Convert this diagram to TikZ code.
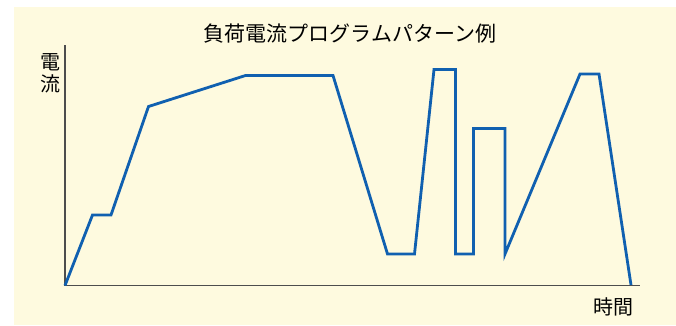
\documentclass[tikz,border=0pt]{standalone}
\usepackage{fontspec}
\newfontfamily\jpfont{Noto Sans CJK JP}
\usepackage{xcolor}
\usetikzlibrary{positioning}
\definecolor{bgcream}{HTML}{FEFADF}
\definecolor{curveblue}{HTML}{1060B0}
\definecolor{axisgray}{HTML}{4D4D4D}

\begin{document}
\begin{tikzpicture}[x=1pt, y=-1pt,
	axisline/.style={axisgray, line width=1.7pt},
	loadcurve/.style={curveblue, line width=2.8pt, line join=miter},
	jplabel/.style={font=\jpfont\fontsize{20}{22}\selectfont, inner sep=0pt, align=center}]
			\useasboundingbox (0,0) rectangle (676,325);
			\fill[bgcream] (14,7) rectangle (676,325);
			
			\coordinate (O) at (65,285.5);
			\coordinate (Ytop) at (65,45);
			\coordinate (Xend) at (640,285.5);
			\draw[axisline] (Ytop) -- (O) -- (Xend);
			
			\coordinate (P1) at (92.5,215);
			\coordinate (P2) at (111,215);
			\coordinate (P3) at (148.5,106.5);
			\coordinate (P4) at (245.5,75.5);
			\coordinate (P5) at (333,75.5);
			\coordinate (P6) at (387.5,254);
			\coordinate (P7) at (414.5,254);
			\coordinate (P8) at (434,69.5);
			\coordinate (P9) at (455.5,69.5);
			\coordinate (P10) at (455.5,254);
			\coordinate (P11) at (473.5,254);
			\coordinate (P12) at (473.5,128.5);
			\coordinate (P13) at (505,128.5);
			\coordinate (P14) at (505,254);
			\coordinate (P15) at (580,74);
			\coordinate (P16) at (599,74);
			\coordinate (P17) at (631,285);
			
			\draw[loadcurve] (O) -- (P1) -- (P2) -- (P3) -- (P4) -- (P5) -- (P6) -- (P7) -- (P8)
				-- (P9) -- (P10) -- (P11) -- (P12) -- (P13) -- (P14) -- (P15) -- (P16) -- (P17);
			
			\node[jplabel, font=\jpfont\fontsize{21}{22}\selectfont] (title) at (350,34) {負荷電流プログラムパターン例};
			\node[jplabel] (ylabel) at (50,73) {電\\流};
			\node[jplabel] (xlabel) at (613,307) {時間};
		\end{tikzpicture}
\end{document}
